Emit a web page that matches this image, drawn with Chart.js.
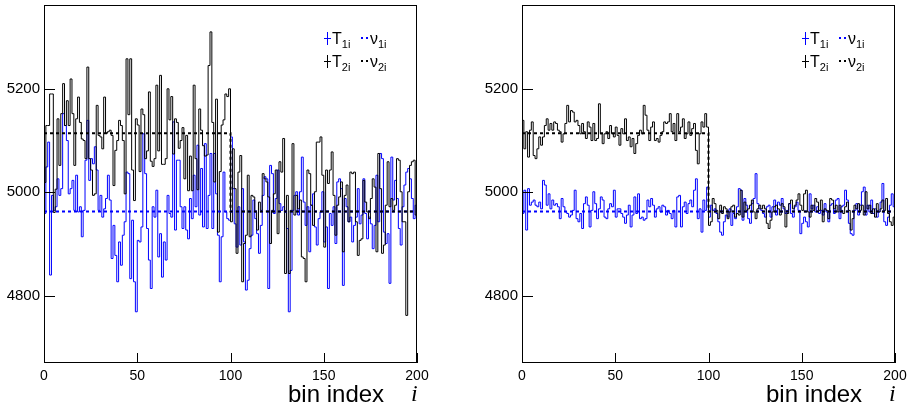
<!DOCTYPE html>
<html>
<head>
<meta charset="utf-8">
<script src="https://cdn.jsdelivr.net/npm/chart.js@4.4.1/dist/chart.umd.min.js"></script>
<style>
body { margin:0; background:#fff; }
#wrap { position:relative; width:907px; height:416px; font-family:"Liberation Sans", Arial, sans-serif; }
canvas { position:absolute; top:0; }
.leg { position:absolute; font-size:16px; color:#000; line-height:1; white-space:nowrap; }
.leg sub { font-size:11px; vertical-align:-4px; }
.bar { display:inline-block; position:relative; width:7px; height:13px; margin-right:1px; vertical-align:-1px; }
.bar:before { content:""; position:absolute; left:3px; top:0; width:1px; height:13px; background:currentColor; }
.bar:after { content:""; position:absolute; left:0; top:6px; width:7px; height:1px; background:currentColor; }
.dots { display:inline-block; width:7px; border-top:2px dotted currentColor; vertical-align:5px; margin-right:2px; }
.title { position:absolute; font-size:24px; color:#000; }
.title.it { font-family:"Liberation Serif", serif; font-style:italic; }
</style>
</head>
<body>
<div id="wrap">
  <canvas id="left" width="453" height="416" style="left:0"></canvas>
  <canvas id="right" width="454" height="416" style="left:453px"></canvas>

  <div class="leg" style="left:324px;top:31px"><span class="bar" style="color:#0000ff"></span>T<sub>1i</sub></div>
  <div class="leg" style="left:361px;top:31px"><span class="dots" style="color:#0000ff"></span>ν<sub>1i</sub></div>
  <div class="leg" style="left:324px;top:54px"><span class="bar"></span>T<sub>2i</sub></div>
  <div class="leg" style="left:361px;top:54px"><span class="dots"></span>ν<sub>2i</sub></div>

  <div class="leg" style="left:802px;top:31px"><span class="bar" style="color:#0000ff"></span>T<sub>1i</sub></div>
  <div class="leg" style="left:839px;top:31px"><span class="dots" style="color:#0000ff"></span>ν<sub>1i</sub></div>
  <div class="leg" style="left:802px;top:54px"><span class="bar"></span>T<sub>2i</sub></div>
  <div class="leg" style="left:839px;top:54px"><span class="dots"></span>ν<sub>2i</sub></div>

  <div class="title" style="left:288px;top:380px">bin index</div>
  <div class="title it" style="left:411px;top:380px">i</div>
  <div class="title" style="left:766px;top:380px">bin index</div>
  <div class="title it" style="left:889px;top:380px">i</div>
</div>
<script>
// tick values
var xTicks = [0, 50, 100, 150, 200];
var yTicks = [4800, 5000, 5200];

// expected values: edges of the two regimes and the level in each
var nuEdges = [0, 100, 200];
var nu1Levels = [4963, 4963];
var nu2Levels = [5114, 4963];

// left panel, per bin (0..199)
var leftT1 = [
  4959, 5049, 5097, 4840, 4994, 4965, 4972, 5026, 4994, 5007, 5152, 5129, 5100, 4997, 5007, 5023, 4965, 5033, 4962, 4972,
  4914, 4965, 5062, 5139, 5023, 5065, 5055, 5088, 5043, 4965, 4994, 4952, 4968, 4988, 5033, 4985, 4872, 4936, 4878, 4827,
  4904, 4859, 4917, 4943, 5039, 5036, 4833, 4946, 4827, 4769, 4907, 4904,
  4933, 5113, 5036, 4930, 4869, 4814, 4972, 4952, 5004, 4875, 4920, 4836, 4904, 4869, 4994, 4959, 4952, 5136, 4927, 5062,
  5062, 4972, 4930, 4972, 4927, 4910, 4988, 4949, 5033, 4972, 5091, 4956, 5046, 4933, 5094, 4930, 4994, 5075, 4930, 5075,
  4997, 4917, 4827, 4914, 5039, 4962, 4949, 4946,
  5107, 5007, 4939, 4894, 4972, 4898, 5007, 4904, 4811, 4830, 4891, 4917, 4985, 4949, 4920, 4882, 4936, 4994, 5030, 5026,
  4814, 5052, 5036, 4959, 4988, 5043, 4978, 4965, 4972, 4962, 4930, 4769, 4849, 4965, 4994, 5001, 4956, 5001, 5068, 4981,
  4936, 4972, 4885, 4975, 4997, 4933, 4898, 4949, 4962,
  5001, 4904, 4933, 4814, 4959, 4936, 4972, 4901, 5020, 5026, 5007, 4820, 4988, 4972, 4943, 4952, 4904, 4936, 4952, 5007,
  4939, 4956, 5026, 4959, 4910, 4952, 4939, 4891, 4936, 5033, 4943, 5075, 5065, 4923, 4901, 4920, 4824, 5068, 4985, 5023,
  4988, 4930, 4898, 4972, 5014, 5039, 5046, 5026, 4988, 4949, 4975
];
var leftT2 = [
  5019, 5129, 5129, 5190, 5190, 4961, 5006, 5142, 5052, 5152, 5210, 5129, 5177, 5129, 5219, 5152, 5052, 5142, 5184, 5135,
  5103, 5100, 5065, 5242, 5065, 5043, 4994, 4997, 5168, 5110, 5107, 5084, 5184, 5114, 5117, 5120, 5110, 5013, 5081, 5100,
  5139, 5129, 5100, 4997, 5258, 5150,
  5258, 5043, 4984, 5142, 5130, 5040, 5161, 5150, 5065, 5080, 5194, 5060, 5050, 5065, 5207, 5080, 5226, 5054, 5054, 5065,
  5200, 5140, 5185, 5074, 5142, 5135, 5085, 5100, 5125, 5026, 5110, 5003, 5070, 5003, 5207, 5065, 5005, 5161, 5120, 5090,
  5070, 5072, 5245, 5310, 5135, 5020, 5180, 4923, 5040, 5130, 5140, 5190, 5185, 5200,
  4943, 5084, 5007, 4882, 5039, 5071, 4827, 4901, 4917, 5033, 4914, 4994, 4991, 4962, 4927, 4981, 4965, 5036, 5026, 5020,
  4991, 4901, 4965, 4997, 5043, 4920, 5059, 5039, 5104, 4843, 4994, 4843, 4965, 5094, 4956, 4994, 4968, 4985, 4875, 4872,
  4827, 5043, 5036, 4975, 4936, 5001, 5097, 5097, 5107,
  5033, 4894, 5043, 5017, 5043, 5078, 4994, 4917, 4975, 4991, 5020, 4885, 4994, 5014, 4943, 5039, 5036, 5039, 4943, 4878,
  4907, 4910, 5023, 4981, 4962, 4949, 4988, 5026, 5010, 4885, 5075, 5007, 4882, 4898, 4975, 5059, 4972, 4988, 4965, 4975,
  5065, 5062, 5001, 4943, 4943, 4762, 5001, 5052, 5059, 5062, 4956
];

// right panel, per bin (0..199)
var rightT1 = [
  4959, 5004, 4927, 5007, 4975, 4981, 4985, 4975, 4972, 4981, 4968, 5023, 5014, 4975, 4997, 4968, 4985, 4975, 4978, 4972,
  4949, 4988, 4972, 4962, 4959, 4952, 4956, 4965, 5004, 4949, 4943, 4959, 4930, 4978, 4991, 4975, 4933, 4965, 5001, 4978,
  4949, 4968, 4991, 4985, 4952, 4949, 4968, 4978, 4972, 5004, 4952, 4968,
  4968, 4959, 4952, 4940, 4956, 4975, 4933, 4956, 4991, 4959, 4997, 4949, 4952, 4946, 4949, 4985, 4972, 4988, 4975, 4952,
  4968, 4972, 4962, 4975, 4972, 4956, 4965, 4959, 4949, 4965, 4933, 4991, 4994, 4933, 4972, 4981, 4959, 4978, 4985, 4972,
  5004, 5026, 4949, 4968, 4923, 4985, 4965, 5010,
  4952, 4975, 4965, 4968, 4959, 4943, 4923, 4917, 4943, 4956, 4952, 4968, 4936, 4959, 4949, 4972, 5007, 5004, 4946, 4988,
  4975, 4949, 4940, 4978, 4988, 5036, 4978, 4968, 4965, 4959, 4952, 4972, 4975, 4952, 4972, 4985, 4956, 4981, 4975, 4988,
  4968, 4959, 4965, 4978, 4959, 4952, 4972, 4981, 4965,
  4920, 4940, 4952, 4943, 4933, 4997, 4968, 4975, 4962, 4972, 4959, 4965, 4956, 4978, 4962, 4943, 4975, 4978, 4959, 4985,
  4988, 4949, 4972, 4975, 5004, 4985, 4940, 4920, 4917, 4965, 4978, 4956, 4975, 5001, 5010, 4956, 4975, 4962, 4985, 4959,
  4968, 4952, 4962, 4981, 5017, 4943, 4936, 4952, 4975, 4997, 4972
];
var rightT2 = [
  5139, 5084, 5117, 5068, 5120, 5136, 5071, 5065, 5084, 5107, 5091, 5107, 5129, 5142, 5120, 5133, 5120, 5136, 5133, 5120,
  5117, 5097, 5113, 5133, 5168, 5136, 5158, 5155, 5136, 5139, 5129, 5113, 5133, 5117, 5104, 5136, 5126, 5100, 5133, 5100,
  5104, 5171, 5113, 5094, 5113, 5117, 5104, 5129, 5113, 5107, 5126, 5110,
  5091, 5123, 5113, 5142, 5100, 5107, 5088, 5104, 5075, 5094, 5110, 5120, 5113, 5168, 5149, 5120, 5100, 5126, 5136, 5100,
  5104, 5097, 5110, 5117, 5136, 5133, 5136, 5152, 5117, 5133, 5100, 5152, 5117, 5126, 5142, 5104, 5113, 5136, 5110, 5123,
  5133, 5081, 5055, 5113, 5136, 5126, 5152, 5126,
  4936, 4943, 4988, 4978, 4965, 4949, 4975, 4959, 4972, 4968, 4949, 4962, 4972, 4975, 4952, 4959, 4956, 5004, 4952, 4981,
  4965, 4968, 4975, 4985, 4962, 4949, 4968, 4975, 4968, 4975, 4968, 4940, 4930, 4946, 4962, 4972, 4975, 4968, 4956, 4978,
  4972, 4933, 4959, 4978, 4985, 4968, 4975, 4985, 4997,
  4975, 4965, 4997, 5004, 4962, 4952, 4975, 4965, 4988, 4981, 4965, 4985, 4943, 4968, 4965, 4949, 4988, 4985, 4968, 4975,
  4962, 4975, 4965, 4959, 4972, 4981, 4965, 4927, 4949, 4975, 4968, 4978, 4965, 4975, 4956, 5001, 4968, 4975, 4959, 4968,
  4952, 4978, 4962, 4968, 4985, 4965, 4988, 4959, 4943, 4936, 4952
];

// histogram outline: left edge of every bin, plus closing point at the last edge
function steps(vals) {
  var pts = vals.map(function (v, i) { return {x: i, y: v}; });
  pts.push({x: vals.length, y: vals[vals.length - 1]});
  return pts;
}
function levels(vals) {
  return nuEdges.map(function (e, k) { return {x: e, y: vals[Math.min(k, vals.length - 1)]}; });
}

// ROOT-like frame with inward ticks
var framePlugin = {
  id: 'frame',
  afterDatasetsDraw: function (chart) {
    var a = chart.chartArea, ctx = chart.ctx;
    var xs = chart.scales.x, ys = chart.scales.y;
    ctx.save();
    ctx.strokeStyle = '#000';
    ctx.lineWidth = 1;
    ctx.strokeRect(a.left + 0.5, a.top + 0.5, a.right - a.left - 1, a.bottom - a.top - 1);
    ctx.beginPath();
    yTicks.forEach(function (v) {
      var p = Math.round(ys.getPixelForValue(v)) + 0.5;
      ctx.moveTo(a.left, p); ctx.lineTo(a.left + 11, p);
    });
    xTicks.forEach(function (v) {
      var p = Math.round(xs.getPixelForValue(v)) + 0.5;
      ctx.moveTo(p, a.bottom); ctx.lineTo(p, a.bottom - 10);
    });
    ctx.stroke();
    ctx.restore();
  }
};

function makePanel(id, t1, t2, yWidth, padRight) {
  return new Chart(document.getElementById(id), {
    type: 'line',
    data: {
      datasets: [
        {data: levels(nu2Levels), borderColor: '#000', borderWidth: 2, borderDash: [3, 3], stepped: 'before', pointRadius: 0, order: 0},
        {data: levels(nu1Levels), borderColor: '#0000ff', borderWidth: 2, borderDash: [3, 3], stepped: 'before', pointRadius: 0, order: 1},
        {data: steps(t2), borderColor: '#000', borderWidth: 1, stepped: 'before', pointRadius: 0, order: 2},
        {data: steps(t1), borderColor: '#0000ff', borderWidth: 1, stepped: 'before', pointRadius: 0, order: 3}
      ]
    },
    options: {
      responsive: false,
      animation: false,
      devicePixelRatio: 1,
      layout: {padding: {top: 5, right: padRight, left: 0, bottom: 0}},
      plugins: {legend: {display: false}, tooltip: {enabled: false}},
      scales: {
        x: {
          type: 'linear', min: 0, max: 200,
          grid: {display: false, drawTicks: false},
          border: {display: false},
          afterBuildTicks: function (s) { s.ticks = xTicks.map(function (v) { return {value: v}; }); },
          afterFit: function (s) { s.height = 53; s.paddingLeft = 0; s.paddingRight = 0; },
          ticks: {color: '#000', padding: 5, maxRotation: 0, font: {family: 'Liberation Sans', size: 14},
                  callback: function (v) { return String(v); }}
        },
        y: {
          min: 4670, max: 5362,
          grid: {display: false, drawTicks: false},
          border: {display: false},
          afterBuildTicks: function (s) { s.ticks = yTicks.map(function (v) { return {value: v}; }); },
          afterFit: function (s) { s.width = yWidth; s.paddingTop = 0; s.paddingBottom = 0; },
          ticks: {color: '#000', padding: 4, font: {family: 'Liberation Sans', size: 15},
                  callback: function (v) { return String(v); }}
        }
      }
    },
    plugins: [framePlugin]
  });
}

makePanel('left', leftT1, leftT2, 44, 36);
makePanel('right', rightT1, rightT2, 69, 12);
</script>
</body>
</html>
